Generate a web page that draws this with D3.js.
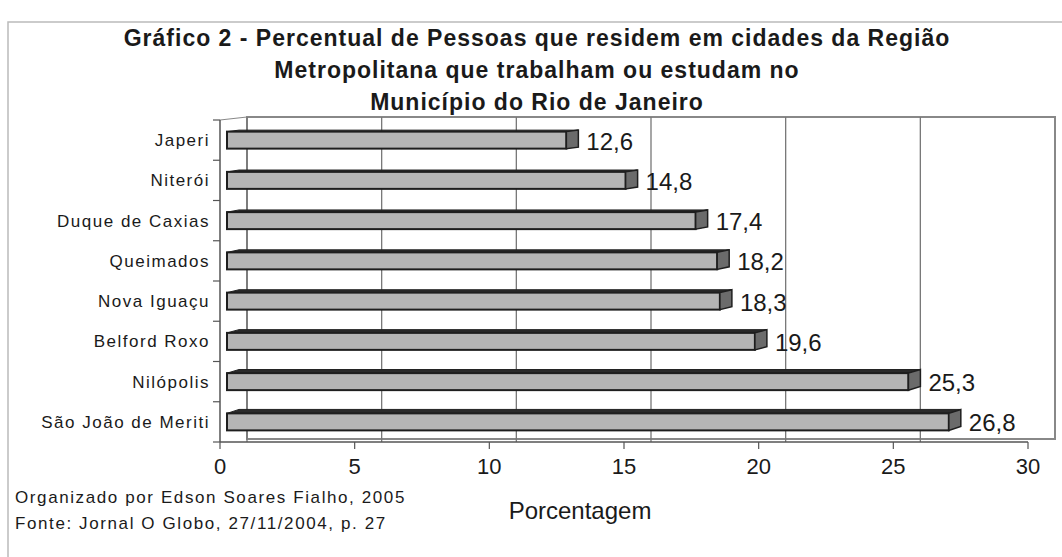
<html>
<head>
<meta charset="utf-8">
<title>Gráfico 2</title>
<style>
    body { margin: 0; background: #fff; }
    svg { display: block; font-family: "Liberation Sans", Arial, sans-serif; }
</style>
</head>
<body>
<script src="https://d3js.org/d3.v7.min.js"></script>
<script>
    // data
    const cities = ["Japeri", "Niterói", "Duque de Caxias", "Queimados", "Nova Iguaçu", "Belford Roxo", "Nilópolis", "São João de Meriti"];
    const values = [12.6, 14.8, 17.4, 18.2, 18.3, 19.6, 25.3, 26.8];
    const xTicks = [0, 5, 10, 15, 20, 25, 30];
    const titleLines = [
        "Gráfico 2 - Percentual de Pessoas que residem em cidades da Região",
        "Metropolitana que trabalham ou estudam no",
        "Município do Rio de Janeiro"
    ];
    const notes = ["Organizado por Edson Soares Fialho, 2005", "Fonte: Jornal O Globo, 27/11/2004, p. 27"];
    const xTitle = "Porcentagem";

    const width = 1062, height = 557;
    const plotLeft = 220, plotRight = 1028, plotTop = 120, plotBottom = 442;
    // fake 3D depth of the Excel chart
    const depthX = 27, depthY = -3;
    const barFront = 7, barBack = 19;

    const br = d3.formatLocale({decimal: ",", thousands: ".", grouping: [3], currency: ["R$", ""]});
    const fmt = br.format(".1f");

    const svg = d3.select("body").append("svg")
        .attr("width", width)
        .attr("height", height);

    // outer frame (top and left edges only visible)
    svg.append("path")
        .attr("d", `M8,${height} V22 H${width}`)
        .attr("fill", "none")
        .attr("stroke", "#bbb")
        .attr("stroke-width", 1.5);

    const x = d3.scaleLinear().domain([0, 30]).range([plotLeft, plotRight]);
    const y = d3.scaleBand().domain(cities).range([plotTop, plotBottom]);

    // back wall
    svg.append("rect")
        .attr("x", x(0) + depthX).attr("y", plotTop + depthY)
        .attr("width", x(30) - x(0)).attr("height", plotBottom - plotTop)
        .attr("fill", "#fff").attr("stroke", "#888").attr("stroke-width", 2);

    // gridlines on the back wall
    svg.append("g").selectAll("line")
        .data(xTicks.slice(0, -1))
        .join("line")
        .attr("x1", d => x(d) + depthX).attr("x2", d => x(d) + depthX)
        .attr("y1", plotTop + depthY).attr("y2", plotBottom)
        .attr("stroke", "#777").attr("stroke-width", 1.3);

    // left wall top edge
    svg.append("line")
        .attr("x1", plotLeft).attr("y1", plotTop)
        .attr("x2", plotLeft + depthX).attr("y2", plotTop + depthY)
        .attr("stroke", "#888").attr("stroke-width", 1);

    // bars
    const barH = 17;
    const bars = svg.append("g").selectAll("g")
        .data(cities.map((c, i) => ({city: c, value: values[i], i: i})))
        .join("g");

    bars.each(function(d) {
        const g = d3.select(this);
        const yc = y(d.city) + y.bandwidth() / 2;
        const y0 = yc - barH / 2, y1 = yc + barH / 2;
        const x0 = x(0) + barFront, xe = x(d.value) + barFront;
        const dd = barBack - barFront;
        const lift = 1.5 + d.i * 0.35;
        // top face
        g.append("path")
            .attr("d", `M${x0},${y0} L${x0 + dd},${y0 - lift} L${xe + dd},${y0 - lift} L${xe},${y0} Z`)
            .attr("fill", "#2a2a2a").attr("stroke", "#222").attr("stroke-width", 1);
        // front face
        g.append("rect")
            .attr("x", x0).attr("y", y0)
            .attr("width", xe - x0).attr("height", barH)
            .attr("fill", "#b5b5b5").attr("stroke", "#1e1e1e").attr("stroke-width", 2);
        // end face
        g.append("path")
            .attr("d", `M${xe},${y0} L${xe + dd},${y0 - lift} L${xe + dd},${y1 - lift} L${xe},${y1} Z`)
            .attr("fill", "#6b6b6b").attr("stroke", "#1e1e1e").attr("stroke-width", 1.5);
        // value label
        g.append("text")
            .attr("x", xe + dd + 8).attr("y", yc + 1)
            .attr("dy", "0.35em")
            .attr("font-size", 24)
            .attr("fill", "#1a1a1a")
            .text(fmt(d.value));
    });

    // category axis
    const yAxis = svg.append("g");
    yAxis.append("line")
        .attr("x1", plotLeft).attr("x2", plotLeft).attr("y1", plotTop).attr("y2", plotBottom)
        .attr("stroke", "#555").attr("stroke-width", 1.5);
    yAxis.selectAll(".tk")
        .data(d3.range(cities.length + 1))
        .join("line")
        .attr("x1", plotLeft - 7).attr("x2", plotLeft)
        .attr("y1", i => plotTop + i * y.step()).attr("y2", i => plotTop + i * y.step())
        .attr("stroke", "#555").attr("stroke-width", 1.2);
    yAxis.selectAll("text")
        .data(cities)
        .join("text")
        .attr("x", plotLeft - 10)
        .attr("y", d => y(d) + y.bandwidth() / 2)
        .attr("dy", "0.35em")
        .attr("text-anchor", "end")
        .attr("font-size", 17)
        .attr("letter-spacing", 1.5)
        .attr("fill", "#1a1a1a")
        .text(d => d);

    // value axis
    const xAxis = svg.append("g");
    xAxis.append("line")
        .attr("x1", plotLeft).attr("x2", plotRight).attr("y1", plotBottom).attr("y2", plotBottom)
        .attr("stroke", "#555").attr("stroke-width", 1.5);
    xAxis.selectAll("line.tk")
        .data(xTicks)
        .join("line")
        .attr("class", "tk")
        .attr("x1", d => x(d)).attr("x2", d => x(d))
        .attr("y1", plotBottom).attr("y2", plotBottom + 7)
        .attr("stroke", "#555").attr("stroke-width", 1.2);
    xAxis.selectAll("text")
        .data(xTicks)
        .join("text")
        .attr("x", d => x(d))
        .attr("y", 466)
        .attr("dy", "0.35em")
        .attr("text-anchor", "middle")
        .attr("font-size", 22)
        .attr("fill", "#1a1a1a")
        .text(d => d);

    svg.append("text")
        .attr("x", 580).attr("y", 511)
        .attr("dy", "0.35em")
        .attr("text-anchor", "middle")
        .attr("font-size", 24)
        .attr("fill", "#1a1a1a")
        .text(xTitle);

    // title
    svg.append("g").selectAll("text")
        .data(titleLines)
        .join("text")
        .attr("x", 537)
        .attr("y", (d, i) => 38 + i * 32)
        .attr("dy", "0.35em")
        .attr("text-anchor", "middle")
        .attr("font-size", 23)
        .attr("font-weight", "bold")
        .attr("letter-spacing", 1)
        .attr("fill", "#1a1a1a")
        .text(d => d);

    // notes
    svg.append("g").selectAll("text")
        .data(notes)
        .join("text")
        .attr("x", 15)
        .attr("y", (d, i) => 497 + i * 26)
        .attr("dy", "0.35em")
        .attr("font-size", 17)
        .attr("letter-spacing", 1.6)
        .attr("fill", "#1a1a1a")
        .text(d => d);
</script>
</body>
</html>
